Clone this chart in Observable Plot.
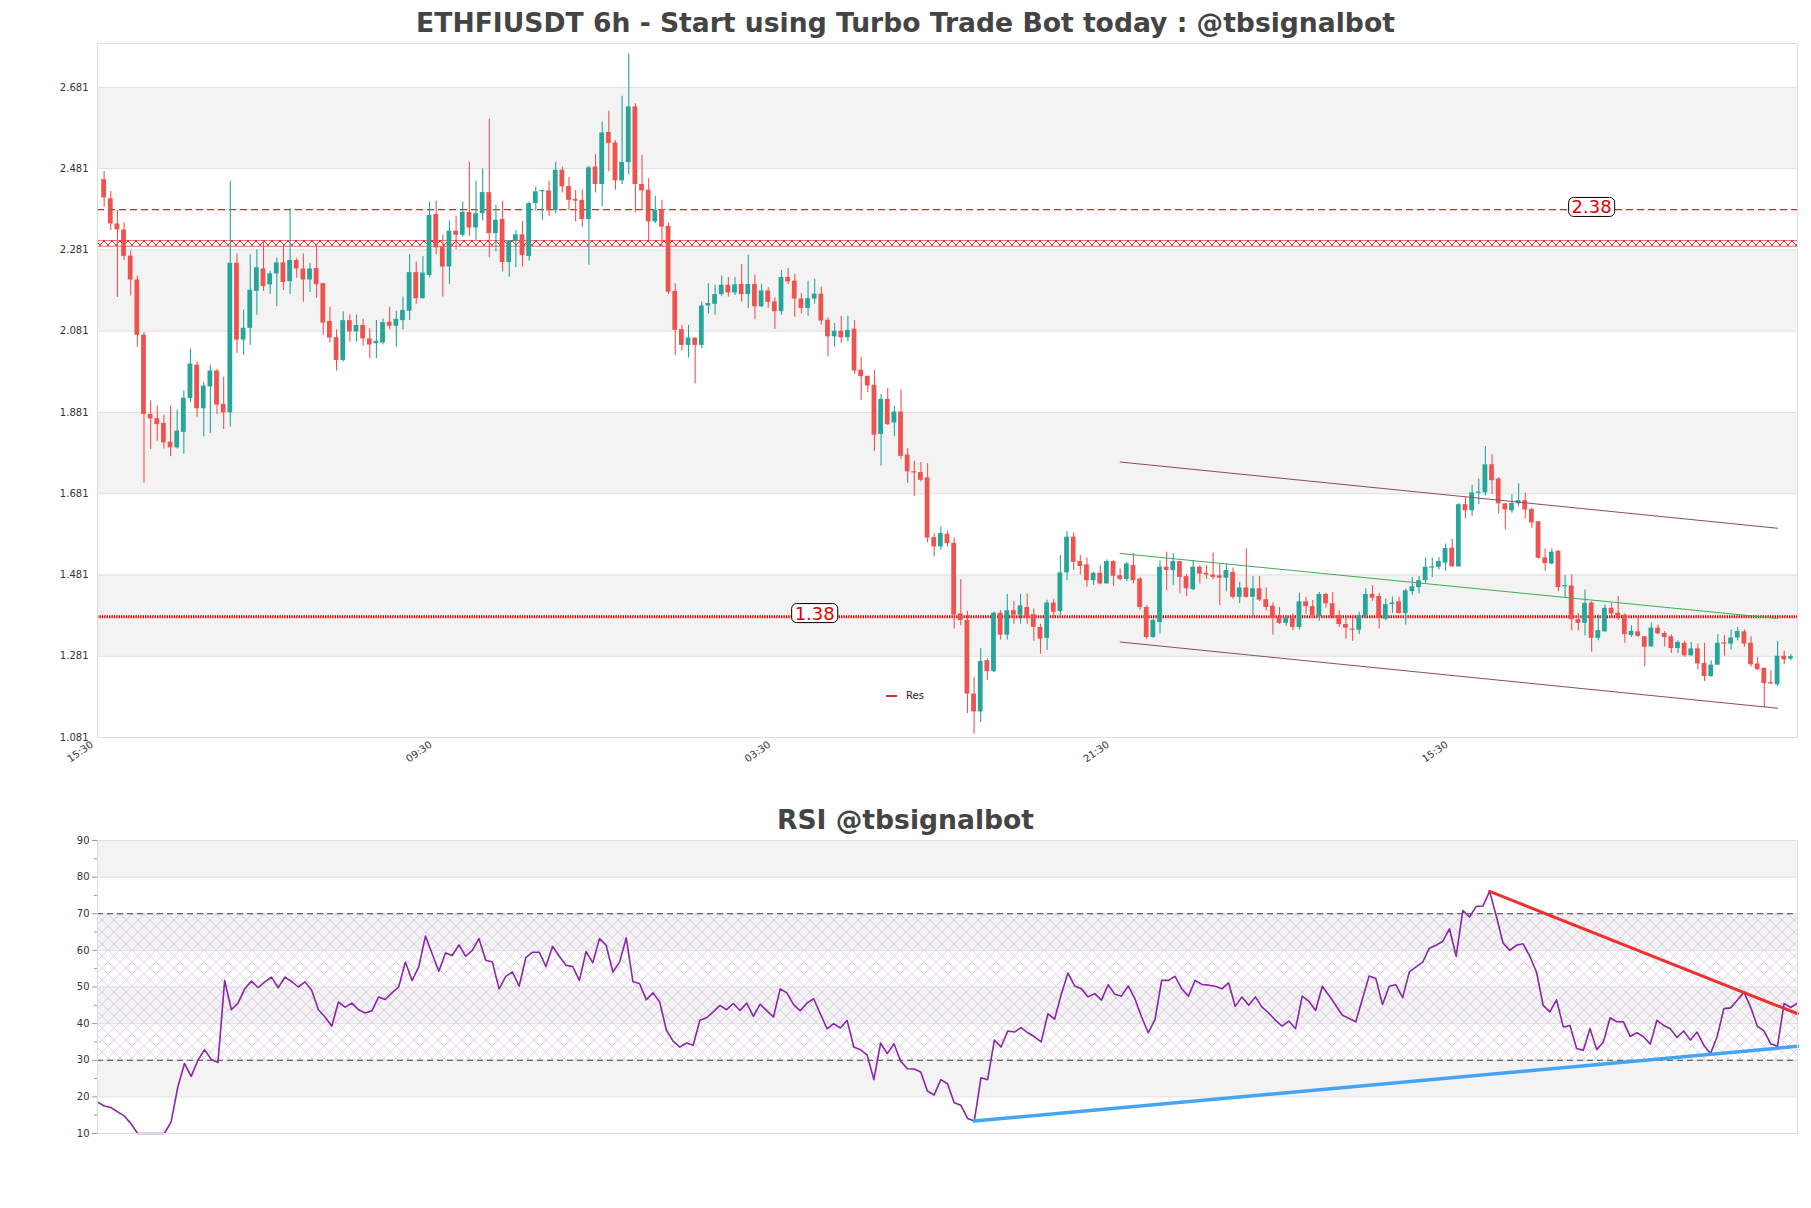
<!DOCTYPE html>
<html><head><meta charset="utf-8">
<script src="https://cdn.jsdelivr.net/npm/d3@7"></script>
<script src="https://cdn.jsdelivr.net/npm/@observablehq/plot@0.6"></script>
<style>
body{margin:0;background:#fff;font-family:"DejaVu Sans",sans-serif;}
#root{position:relative;width:1811px;height:1208px;overflow:hidden;background:#fff;}
.title{position:absolute;left:0;width:1811px;text-align:center;font-weight:bold;font-size:26.6px;color:#444;line-height:30px;}
.abs{position:absolute;left:0;}
#legend{position:absolute;left:886px;top:690px;font-size:10px;color:#222;display:flex;align-items:center;}
#legend span.sw{display:inline-block;width:11px;height:2px;background:#d32f2f;margin-right:9px;}
</style></head><body><div id="root">
<div class="title" style="top:8px">ETHFIUSDT 6h - Start using Turbo Trade Bot today : @tbsignalbot</div>
<div id="price" class="abs" style="top:33px"></div>
<div class="title" style="top:805px">RSI @tbsignalbot</div>
<div id="rsi" class="abs" style="top:830px"></div>
<div id="legend"><span class="sw"></span><span>Res</span></div>
</div>
<script>
const open=[2.454,2.407,2.345,2.330,2.266,2.207,2.071,1.876,1.866,1.854,1.808,1.794,1.832,1.915,1.997,1.890,1.944,1.983,1.901,1.880,2.248,2.059,2.088,2.179,2.234,2.195,2.222,2.249,2.203,2.255,2.234,2.207,2.235,2.198,2.105,2.065,2.009,2.107,2.079,2.095,2.062,2.050,2.052,2.103,2.093,2.107,2.130,2.225,2.161,2.218,2.368,2.288,2.239,2.327,2.317,2.373,2.335,2.370,2.422,2.321,2.356,2.250,2.302,2.318,2.265,2.395,2.424,2.426,2.378,2.477,2.437,2.405,2.403,2.356,2.485,2.442,2.570,2.544,2.451,2.496,2.633,2.442,2.428,2.350,2.380,2.339,2.179,2.085,2.046,2.064,2.046,2.143,2.147,2.171,2.194,2.175,2.196,2.171,2.196,2.141,2.180,2.153,2.129,2.213,2.204,2.160,2.137,2.160,2.172,2.108,2.067,2.081,2.065,2.086,1.985,1.970,1.948,1.827,1.913,1.855,1.882,1.776,1.735,1.733,1.720,1.573,1.550,1.581,1.559,1.385,1.369,1.188,1.144,1.270,1.243,1.387,1.333,1.393,1.382,1.401,1.383,1.352,1.325,1.412,1.391,1.486,1.574,1.514,1.506,1.467,1.485,1.459,1.514,1.479,1.470,1.504,1.471,1.401,1.327,1.364,1.500,1.492,1.514,1.477,1.445,1.500,1.485,1.481,1.479,1.473,1.487,1.426,1.449,1.426,1.447,1.420,1.404,1.377,1.362,1.375,1.352,1.415,1.403,1.378,1.433,1.410,1.381,1.359,1.347,1.345,1.378,1.433,1.428,1.372,1.408,1.415,1.386,1.440,1.450,1.467,1.498,1.500,1.510,1.547,1.501,1.654,1.639,1.682,1.683,1.752,1.717,1.656,1.639,1.656,1.664,1.642,1.612,1.523,1.508,1.539,1.452,1.454,1.371,1.362,1.412,1.325,1.341,1.399,1.387,1.382,1.332,1.341,1.329,1.304,1.350,1.337,1.329,1.300,1.313,1.282,1.299,1.263,1.231,1.259,1.313,1.311,1.326,1.341,1.313,1.262,1.251,1.215,1.211,1.281,1.274];
const high=[2.474,2.425,2.378,2.348,2.279,2.217,2.078,1.909,1.897,1.874,1.897,1.887,1.934,2.037,2.005,1.954,1.997,1.987,1.968,2.450,2.271,2.133,2.269,2.281,2.302,2.228,2.261,2.290,2.382,2.259,2.271,2.248,2.295,2.198,2.140,2.084,2.129,2.121,2.121,2.111,2.087,2.107,2.111,2.140,2.130,2.165,2.270,2.251,2.265,2.399,2.401,2.317,2.352,2.364,2.399,2.497,2.450,2.481,2.603,2.391,2.400,2.305,2.329,2.351,2.399,2.436,2.428,2.450,2.497,2.485,2.459,2.428,2.429,2.487,2.515,2.596,2.622,2.550,2.659,2.763,2.641,2.514,2.456,2.413,2.403,2.347,2.198,2.095,2.095,2.064,2.153,2.198,2.194,2.216,2.213,2.213,2.245,2.268,2.219,2.196,2.188,2.163,2.231,2.235,2.221,2.174,2.204,2.209,2.190,2.114,2.100,2.118,2.118,2.106,2.016,1.970,1.985,1.925,1.940,1.896,1.936,1.792,1.761,1.758,1.755,1.583,1.599,1.589,1.572,1.470,1.391,1.229,1.300,1.274,1.389,1.393,1.433,1.416,1.434,1.434,1.397,1.360,1.419,1.422,1.529,1.588,1.584,1.529,1.523,1.488,1.504,1.518,1.516,1.496,1.512,1.533,1.475,1.405,1.373,1.516,1.537,1.533,1.514,1.483,1.516,1.504,1.504,1.535,1.508,1.508,1.498,1.463,1.545,1.477,1.477,1.449,1.412,1.401,1.381,1.385,1.436,1.426,1.418,1.438,1.436,1.437,1.393,1.375,1.373,1.389,1.447,1.455,1.436,1.422,1.427,1.426,1.446,1.475,1.477,1.522,1.523,1.524,1.557,1.569,1.657,1.672,1.702,1.717,1.797,1.777,1.721,1.657,1.679,1.705,1.683,1.646,1.613,1.545,1.545,1.541,1.479,1.481,1.386,1.444,1.416,1.383,1.407,1.411,1.428,1.385,1.356,1.375,1.329,1.363,1.358,1.342,1.333,1.319,1.317,1.315,1.311,1.313,1.270,1.334,1.332,1.346,1.352,1.346,1.329,1.278,1.252,1.245,1.317,1.293,1.285];
const low=[2.386,2.329,2.164,2.255,2.168,2.041,1.707,1.790,1.810,1.791,1.772,1.791,1.779,1.905,1.868,1.821,1.829,1.876,1.839,1.845,2.026,2.022,2.046,2.120,2.179,2.172,2.141,2.181,2.171,2.211,2.152,2.176,2.162,2.071,2.052,1.983,2.005,2.054,2.054,2.044,2.013,2.014,2.047,2.084,2.042,2.083,2.107,2.147,2.160,2.212,2.269,2.165,2.196,2.282,2.313,2.314,2.304,2.352,2.262,2.276,2.227,2.214,2.237,2.239,2.254,2.377,2.354,2.364,2.370,2.421,2.378,2.350,2.337,2.243,2.421,2.387,2.473,2.428,2.442,2.466,2.372,2.378,2.304,2.346,2.288,2.171,2.021,2.032,2.015,1.951,2.038,2.124,2.121,2.166,2.165,2.169,2.153,2.137,2.110,2.139,2.137,2.085,2.120,2.196,2.115,2.123,2.118,2.148,2.096,2.018,2.042,2.051,2.055,1.975,1.911,1.930,1.785,1.749,1.849,1.821,1.765,1.707,1.675,1.710,1.560,1.525,1.542,1.550,1.348,1.356,1.140,1.089,1.118,1.221,1.241,1.321,1.321,1.360,1.360,1.360,1.318,1.286,1.295,1.378,1.378,1.467,1.492,1.481,1.451,1.455,1.457,1.459,1.453,1.467,1.465,1.459,1.393,1.323,1.325,1.336,1.442,1.455,1.434,1.428,1.442,1.459,1.470,1.470,1.405,1.440,1.422,1.411,1.424,1.378,1.416,1.393,1.333,1.359,1.355,1.344,1.345,1.385,1.375,1.367,1.400,1.373,1.352,1.323,1.318,1.334,1.375,1.416,1.348,1.368,1.386,1.385,1.358,1.431,1.434,1.460,1.475,1.493,1.490,1.500,1.500,1.619,1.625,1.654,1.676,1.679,1.631,1.592,1.633,1.649,1.619,1.596,1.520,1.491,1.506,1.440,1.424,1.344,1.344,1.331,1.291,1.319,1.340,1.375,1.369,1.313,1.327,1.327,1.255,1.303,1.334,1.304,1.288,1.288,1.278,1.281,1.247,1.219,1.229,1.259,1.282,1.296,1.319,1.303,1.254,1.245,1.155,1.211,1.207,1.260,1.270];
const close=[2.409,2.345,2.330,2.265,2.207,2.071,1.876,1.865,1.851,1.806,1.794,1.835,1.916,2.000,1.890,1.946,1.983,1.899,1.880,2.248,2.059,2.088,2.182,2.237,2.191,2.222,2.249,2.201,2.255,2.234,2.207,2.234,2.195,2.101,2.064,2.009,2.107,2.079,2.095,2.062,2.047,2.056,2.102,2.093,2.110,2.132,2.225,2.161,2.224,2.366,2.286,2.239,2.327,2.317,2.373,2.335,2.370,2.422,2.321,2.354,2.250,2.303,2.318,2.267,2.395,2.424,2.426,2.377,2.477,2.436,2.403,2.401,2.356,2.483,2.442,2.569,2.543,2.451,2.496,2.633,2.442,2.426,2.350,2.378,2.337,2.177,2.083,2.046,2.064,2.046,2.143,2.149,2.171,2.194,2.175,2.195,2.171,2.196,2.141,2.180,2.152,2.129,2.213,2.202,2.160,2.137,2.161,2.172,2.106,2.067,2.081,2.065,2.083,1.983,1.969,1.946,1.825,1.913,1.851,1.882,1.773,1.735,1.732,1.714,1.572,1.550,1.583,1.558,1.382,1.369,1.188,1.144,1.268,1.243,1.387,1.333,1.393,1.382,1.405,1.378,1.352,1.323,1.412,1.389,1.486,1.574,1.512,1.502,1.467,1.485,1.459,1.514,1.478,1.470,1.508,1.467,1.401,1.327,1.369,1.500,1.492,1.514,1.475,1.447,1.500,1.483,1.481,1.475,1.473,1.492,1.426,1.449,1.426,1.447,1.419,1.401,1.375,1.362,1.375,1.352,1.415,1.403,1.381,1.433,1.410,1.378,1.359,1.350,1.345,1.381,1.433,1.424,1.374,1.408,1.412,1.386,1.442,1.452,1.467,1.500,1.501,1.514,1.546,1.501,1.654,1.639,1.683,1.684,1.752,1.713,1.656,1.641,1.657,1.664,1.641,1.609,1.522,1.509,1.537,1.450,1.454,1.371,1.362,1.411,1.325,1.344,1.399,1.385,1.379,1.334,1.342,1.330,1.303,1.350,1.336,1.327,1.300,1.315,1.282,1.299,1.262,1.231,1.259,1.313,1.311,1.326,1.342,1.311,1.260,1.248,1.214,1.213,1.281,1.272,1.280];
const rsi=[18.6,17.5,17.1,15.9,14.8,12.7,10,10,10,10,10,13.2,22.7,29.1,25.6,30,32.9,30.2,29.4,51.8,43.8,45.6,49.5,51.6,49.8,51.4,52.7,49.8,52.7,51.5,50,51.4,49.1,43.8,41.8,39.3,45.9,44.5,45.6,43.8,42.9,43.5,47.3,46.6,48.4,50,56.8,51.8,55.5,63.9,59.1,54.3,59.3,58.6,61.5,58.4,60,63.2,57.3,56.8,49.5,52.9,54.1,50.2,58,59.5,59.5,55.6,61.1,58.4,55.9,55.6,51.8,59.7,56.6,63.2,61.4,54.1,56.8,63.4,51.5,50.9,46.5,48.4,45.9,38.2,35.2,33.6,34.7,34.1,40.9,41.6,43.2,45,43.8,45.5,43.6,45.6,42,45.3,43.5,41.8,49.5,48.4,45.2,43.5,45.6,46.8,42.7,38.6,40,38.8,40.9,33.6,32.9,31.4,24.7,34.7,31.8,34.5,29.8,27.7,27.6,26.8,21.6,20.5,24.7,23.6,18.4,17.7,14.1,13.4,25.2,24.7,35.5,33.6,38,37.7,38.9,37.5,36.4,35,42.7,41.2,48,53.8,50.3,49.5,47.3,48.2,46.4,50.6,48,47.5,50.3,46.8,41.8,37.5,41.1,51.8,51.8,52.9,49.5,47.5,51.8,50.7,50.5,50.2,49.5,51.1,44.7,47.3,45,47.3,44.5,42.9,40.9,39.3,40.7,38.6,47.5,46.1,43.6,50.2,47.7,45,42.3,41.4,40.5,46.8,53,52.3,45.2,50.2,50.6,47.1,54.1,55.5,56.8,60.6,61.4,62.5,65.9,58.4,70.9,69.1,72,72.1,76.1,69.3,62,60,61.4,61.8,58.4,54.1,45,43.2,46.5,39.1,39.5,33.2,32.7,38.6,32.9,35,41.6,40.5,40.5,36.5,37.5,36.4,34.4,40.9,39.5,38.6,36.2,38,35.5,37.7,34.1,31.8,36.5,44.1,44.3,46.4,48.6,44.5,39.3,38,34.5,33.8,45.5,44.4,45.6];

const priceTicks=[1.081,1.281,1.481,1.681,1.881,2.081,2.281,2.481,2.681];
const priceBandLo=[1.281,1.681,2.081,2.481];
const priceBandHi=[1.481,1.881,2.281,2.681];
const timeTickIdx=[0,51,102,153,204];
const timeTickLabels=["15:30","09:30","03:30","21:30","15:30"];
const resLevel=[2.38];
const resLabelIdx=[224];
const supLevel=[1.378];
const supLabelIdx=[107];
const zoneLo=[2.290], zoneHi=[2.304];
const chanIdx=[153,252];
const chanUpper=[1.759,1.596];
const chanMid=[1.534,1.374];
const chanLower=[1.316,1.153];
const rsiTicks=[10,20,30,40,50,60,70,80,90];
const rsiMinor=[15,25,35,45,55,65,75,85];
const rsiBandLo=[20,40,60,80], rsiBandHi=[30,50,70,90];
const rsiLevels=[30,70];
const rsiDownIdx=[208,254], rsiDownVal=[76.1,42.7];
const rsiUpIdx=[131,254], rsiUpVal=[13.4,33.8];

const N=open.length;
const GREEN="#26a69a", RED="#ef5350";
const candles=open.map((o,i)=>({i,o,h:high[i],l:low[i],c:close[i],up:close[i]>=o}));
const pBands=priceBandLo.map((lo,k)=>({lo,hi:priceBandHi[k]}));
const pts=(xs,ys)=>xs.map((x,k)=>({x,y:ys[k]}));

const price=Plot.plot({
  width:1811,height:749,marginLeft:97,marginRight:14,marginTop:10,marginBottom:45,
  style:{fontFamily:"DejaVu Sans",fontSize:"10px",color:"#333",background:"transparent"},
  color:{type:"identity"},
  x:{type:"linear",domain:[-1,N]},
  y:{domain:[1.081,2.789]},
  marks:[
    Plot.rect(pBands,{x1:()=>-1,x2:()=>N,y1:"lo",y2:"hi",fill:"#f3f3f3"}),
    Plot.ruleY(priceTicks,{stroke:"#dedede",strokeWidth:1}),
    Plot.rect(zoneLo,{x1:()=>-1,x2:()=>N,y1:d=>d,y2:(d,k)=>zoneHi[k],fill:"url(#zoneHatch)"}),
    Plot.ruleY(zoneLo,{stroke:"#e03030",strokeWidth:0.7}),
    Plot.ruleY(zoneHi,{stroke:"#e03030",strokeWidth:0.7}),
    Plot.ruleY(resLevel,{stroke:"#d62728",strokeWidth:1.2,strokeDasharray:"7,4"}),
    Plot.ruleY(supLevel,{stroke:"#e00000",strokeWidth:3,strokeDasharray:"1.4,1"}),
    Plot.ruleX(candles,{x:"i",y1:"l",y2:"h",stroke:d=>d.up?GREEN:RED,strokeWidth:1.1}),
    Plot.rect(candles,{x1:d=>d.i-0.36,x2:d=>d.i+0.36,y1:d=>Math.min(d.o,d.c),y2:d=>Math.max(Math.max(d.o,d.c),Math.min(d.o,d.c)+0.003),fill:d=>d.up?GREEN:RED}),
    Plot.line(pts(chanIdx,chanUpper),{x:"x",y:"y",stroke:"#8e4b63",strokeWidth:1}),
    Plot.line(pts(chanIdx,chanLower),{x:"x",y:"y",stroke:"#8e4b63",strokeWidth:1}),
    Plot.line(pts(chanIdx,chanMid),{x:"x",y:"y",stroke:"#3dae55",strokeWidth:1}),
    Plot.text(resLevel,{x:()=>resLabelIdx[0],y:d=>d,dy:-2,text:d=>d.toFixed(2),fill:"#e00000",fontSize:18,className:"lvl"}),
    Plot.text(supLevel,{x:()=>supLabelIdx[0],y:d=>d,dy:-3,text:d=>d.toFixed(2),fill:"#e00000",fontSize:18,className:"lvl"}),
    Plot.frame({stroke:"#dedede"}),
    Plot.axisY(priceTicks,{tickSize:0,tickPadding:9,tickFormat:d=>d.toFixed(3),fontSize:10,fill:"#333"}),
    Plot.axisX(timeTickIdx,{tickSize:0,tickPadding:6,dx:-12,tickRotate:-35,tickFormat:d=>timeTickLabels[timeTickIdx.indexOf(d)],fontSize:10,fill:"#333"})
  ]
});
document.getElementById("price").appendChild(price);
{
  const svg=d3.select(price);
  const defs=svg.insert("defs",":first-child");
  const p=defs.append("pattern").attr("id","zoneHatch").attr("patternUnits","userSpaceOnUse").attr("width",8).attr("height",8);
  p.append("path").attr("d","M0,0L8,8M8,0L0,8").attr("stroke","#e03030").attr("stroke-width",1).attr("fill","none");
  svg.selectAll(".lvl text").each(function(){
    const b=this.getBBox();
    d3.select(this.parentNode).insert("rect",()=>this)
      .attr("x",b.x-3).attr("y",b.y+1).attr("width",b.width+6).attr("height",b.height-2)
      .attr("rx",5).attr("fill","#fff").attr("stroke","#000").attr("stroke-width",1)
      .attr("transform",this.getAttribute("transform"));
  });
}

const rBands=rsiBandLo.map((lo,k)=>({lo,hi:rsiBandHi[k]}));
const rsiPlot=Plot.plot({
  width:1811,height:323,marginLeft:97,marginRight:14,marginTop:10,marginBottom:20,
  style:{fontFamily:"DejaVu Sans",fontSize:"10px",color:"#333",background:"transparent"},
  x:{type:"linear",domain:[0,N-1],axis:null},
  y:{domain:[10,90]},
  marks:[
    Plot.rect(rBands,{x1:()=>0,x2:()=>N-1,y1:"lo",y2:"hi",fill:"#f3f3f3"}),
    Plot.rect([rsiLevels],{x1:()=>0,x2:()=>N-1,y1:d=>d[0],y2:d=>d[1],fill:"url(#rsiHatch)"}),
    Plot.ruleY(rsiTicks,{stroke:"#dedede"}),
    Plot.ruleY(rsiLevels,{stroke:"#444",strokeWidth:1.2,strokeDasharray:"6,4"}),
    Plot.line(rsi,{x:(d,i)=>i,y:d=>d,stroke:"#8e24aa",strokeWidth:1.6}),
    Plot.line(pts(rsiUpIdx,rsiUpVal),{x:"x",y:"y",stroke:"#42a5f5",strokeWidth:3.5}),
    Plot.line(pts(rsiDownIdx,rsiDownVal),{x:"x",y:"y",stroke:"#f03030",strokeWidth:3}),
    Plot.frame({stroke:"#dedede"}),
    Plot.axisY(rsiTicks,{tickSize:5,tickPadding:3,fontSize:10,fill:"#333",stroke:"#999"}),
    Plot.axisY(rsiMinor,{tickSize:3,tickFormat:()=>"",stroke:"#999"})
  ]
});
document.getElementById("rsi").appendChild(rsiPlot);
{
  const svg=d3.select(rsiPlot);
  const defs=svg.insert("defs",":first-child");
  const p=defs.append("pattern").attr("id","rsiHatch").attr("patternUnits","userSpaceOnUse").attr("width",12).attr("height",12);
  p.append("path").attr("d","M0,0L12,12M12,0L0,12").attr("stroke","#cdb6da").attr("stroke-width",0.6).attr("fill","none");
}
</script></body></html>
